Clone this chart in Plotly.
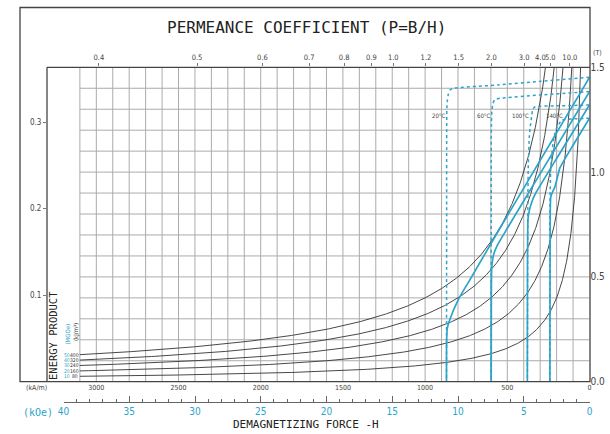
import numpy as np
import plotly.graph_objects as go

# ---------------- data ----------------
energy_kj = [80, 160, 240, 320, 400]            # kJ/m^3 iso-energy curves
energy_mgoe = ["10", "20", "30", "40", "50"]     # same curves in MGOe
permeance_values = [0.4, 0.5, 0.6, 0.7, 0.8, 0.9, 1.0, 1.2, 1.5, 2.0, 3.0, 4.0, 5.0, 10.0]
permeance_labels = ["0.4", "0.5", "0.6", "0.7", "0.8", "0.9", "1.0", "1.2", "1.5", "2.0",
                    "3.0", "4.0", "5.0", "10.0"]
ka_ticks = [3000, 2500, 2000, 1500, 1000, 500, 0]
koe_ticks = [40, 35, 30, 25, 20, 15, 10, 5, 0]
b_ticks = [0.0, 0.5, 1.0, 1.5]
b_ticklabels = ["0.0", "0.5", "1.0", "1.5"]
left_ticks = [0.1, 0.2, 0.3]
temps = ["20°C", "60°C", "100°C", "140°C"]

# intrinsic curves J (dotted), H in kA/m, J in T
j20_h = [0, 300, 550, 830, 848, 858, 864, 868, 869, 870]
j20_b = [1.452, 1.433, 1.416, 1.400, 1.392, 1.375, 1.345, 1.30, 0.70, 0.0]
j60_h = [0, 300, 545, 578, 588, 594, 597, 598, 599]
j60_b = [1.384, 1.368, 1.352, 1.345, 1.325, 1.29, 1.22, 0.70, 0.0]
j100_h = [0, 200, 331, 345, 352, 360, 366, 373, 376, 378]
j100_b = [1.320, 1.316, 1.312, 1.300, 1.265, 1.22, 1.17, 1.01, 0.70, 0.0]
j140_h = [0, 100, 169, 200, 220, 230, 236, 240, 241]
j140_b = [1.257, 1.254, 1.248, 1.21, 1.153, 1.073, 1.01, 0.867, 0.0]

# normal curves B (solid)
b20_h = [0, 300, 550, 727, 798, 849, 865, 869, 870]
b20_b = [1.452, 1.056, 0.725, 0.487, 0.392, 0.298, 0.255, 0.20, 0.0]
b60_h = [0, 300, 500, 560, 580, 590, 595, 597, 598]
b60_b = [1.384, 0.993, 0.732, 0.652, 0.615, 0.58, 0.54, 0.45, 0.0]
b100_h = [0, 200, 332, 350, 365, 374, 377, 378]
b100_b = [1.320, 1.065, 0.893, 0.86, 0.82, 0.78, 0.60, 0.0]
b140_h = [0, 100, 180, 210, 225, 236, 239, 240, 241]
b140_b = [1.257, 1.128, 1.020, 0.93, 0.905, 0.88, 0.80, 0.50, 0.0]

# ---------------- geometry helpers ----------------
W, HP = 610, 434
def fx(x):
    return x / W
def fy(y):
    return 1 - y / HP

MU0 = 4e-4 * np.pi          # T per (kA/m)
H_MAX = 3300                 # left end of plotting frame
H_GRID = 3100                # left end of grid
B_TOP = 1.5

CYAN = "#2aa4c9"
DARK = "#333333"
GRID = "#ababab"
NARROW = "Liberation Sans Narrow, DejaVu Sans Condensed, Arial Narrow, sans-serif"
MONO = "DejaVu Sans Mono, Liberation Mono, monospace"

fig = go.Figure()

# iso-energy hyperbolas
for e in energy_kj:
    hh = np.geomspace(e / 1.6, H_GRID, 400)
    fig.add_trace(go.Scatter(x=hh, y=e / hh, mode="lines",
                             line=dict(color=DARK, width=0.9),
                             hoverinfo="skip", showlegend=False))

# demagnetization curves
for hs, bs in [(j20_h, j20_b), (j60_h, j60_b), (j100_h, j100_b), (j140_h, j140_b)]:
    fig.add_trace(go.Scatter(x=hs, y=bs, mode="lines",
                             line=dict(color=CYAN, width=1.5, dash="dot", shape="spline", smoothing=0.4),
                             hoverinfo="skip", showlegend=False))
for hs, bs in [(b20_h, b20_b), (b60_h, b60_b), (b100_h, b100_b), (b140_h, b140_b)]:
    fig.add_trace(go.Scatter(x=hs, y=bs, mode="lines",
                             line=dict(color=CYAN, width=1.7, shape="spline", smoothing=0.4),
                             hoverinfo="skip", showlegend=False))

# invisible traces to activate the extra axes
fig.add_trace(go.Scatter(x=[0], y=[0], xaxis="x2", yaxis="y", mode="markers",
                         marker=dict(opacity=0), hoverinfo="skip", showlegend=False))
fig.add_trace(go.Scatter(x=[0], y=[0], xaxis="x", yaxis="y2", mode="markers",
                         marker=dict(opacity=0), hoverinfo="skip", showlegend=False))
fig.add_trace(go.Scatter(x=[0], y=[0], xaxis="x3", yaxis="y", mode="markers",
                         marker=dict(opacity=0), hoverinfo="skip", showlegend=False))

x_dom = [fx(47), fx(589.5)]
y_dom = [fy(381.7), fy(67.3)]

shapes = []
for h in range(100, H_GRID + 1, 100):
    shapes.append(dict(type="line", xref="x", yref="y", x0=h, x1=h, y0=0, y1=B_TOP,
                       layer="below", line=dict(color=GRID, width=1)))
for k in range(1, 15):
    b = k / 10
    shapes.append(dict(type="line", xref="x", yref="y", x0=H_GRID, x1=0, y0=b, y1=b,
                       layer="below", line=dict(color=GRID, width=1)))
# frames
shapes.append(dict(type="rect", xref="paper", yref="paper", x0=fx(20), x1=fx(590),
                   y0=fy(381.7), y1=fy(7.5), line=dict(color="#444", width=1.3)))
shapes.append(dict(type="line", xref="paper", yref="paper", x0=fx(47), x1=fx(590),
                   y0=fy(67.3), y1=fy(67.3), line=dict(color="#444", width=1.3)))
shapes.append(dict(type="line", xref="paper", yref="paper", x0=fx(47), x1=fx(47),
                   y0=fy(67.3), y1=fy(381.7), line=dict(color="#444", width=1.3)))

def A(text, x, y, size, color="#333", family=None, angle=0, yref="paper"):
    return dict(text=text, x=x, y=y, xref="paper", yref=yref, xanchor="center",
                yanchor="middle", textangle=angle, showarrow=False,
                font=dict(family=family or NARROW, size=size, color=color))

ann = []
ann.append(A("PERMEANCE COEFFICIENT (P=B/H)", fx(306), fy(28), 16, "#222", MONO))
ann.append(A("DEMAGNETIZING FORCE -H", fx(306), fy(424), 11, "#222", MONO))
ann.append(A("(kA/m)", fx(36), fy(388), 7, "#444"))
ann.append(A("(kOe)", fx(38), fy(412), 10, CYAN, MONO))
ann.append(A("(T)", fx(597), fy(53), 7, "#444"))
ann.append(A("ENERGY PRODUCT", fx(53), fy(336), 10.5, "#222", MONO, -90))
ann.append(A("(MGOe)", fx(66.5), fy(334), 6, CYAN, None, -90))
ann.append(A("(kJ/m³)", fx(76), fy(332), 6, "#333", None, -90))
for e, m in zip(energy_kj, energy_mgoe):
    ann.append(A(str(e), fx(74.5), e / H_GRID, 5, "#333", None, 0, "y"))
    ann.append(A(m, fx(67), e / H_GRID, 5, CYAN, None, 0, "y"))
for t, xp in zip(temps, [438.5, 484.4, 520.6, 554.5]):
    ann.append(A(t, fx(xp), fy(115.7), 6, "#444"))

top_tickvals = [B_TOP / (MU0 * p) for p in permeance_values]

fig.update_layout(
    width=W, height=HP,
    margin=dict(l=0, r=0, t=0, b=0, autoexpand=False),
    paper_bgcolor="white", plot_bgcolor="rgba(0,0,0,0)",
    showlegend=False,
    shapes=shapes, annotations=ann,
    xaxis=dict(domain=x_dom, range=[H_MAX, 0], anchor="y", showgrid=False, zeroline=False,
               showline=False, ticks="", tickvals=ka_ticks, ticktext=[str(t) for t in ka_ticks],
               tickangle=0, tickfont=dict(family=NARROW, size=7, color="#444")),
    xaxis2=dict(overlaying="x", side="top", range=[H_MAX, 0], anchor="y", showgrid=False,
                zeroline=False, showline=False, ticks="outside", ticklen=3, tickcolor="#777",
                tickvals=top_tickvals, ticktext=permeance_labels, tickangle=0,
                tickfont=dict(family=NARROW, size=7.5, color="#444")),
    xaxis3=dict(domain=[fx(63.5), fx(589.5)], range=[40, 0], anchor="free", position=fy(402),
                side="bottom", showgrid=False, zeroline=False, showline=True, linecolor="#666",
                linewidth=1, ticks="inside", ticklen=6, tickcolor="#666", tickvals=koe_ticks,
                ticktext=[str(k) for k in koe_ticks], tickangle=0,
                minor=dict(ticks="inside", ticklen=3, dtick=1, tickcolor="#666", showgrid=False),
                tickfont=dict(family=NARROW, size=10, color=CYAN)),
    yaxis=dict(domain=y_dom, range=[0, B_TOP], anchor="x", side="right", showgrid=False,
               zeroline=False, showline=False, ticks="", tickvals=b_ticks, ticktext=b_ticklabels,
               tickfont=dict(family=NARROW, size=10, color="#444")),
    yaxis2=dict(overlaying="y", side="left", range=[0, 0.3633], anchor="x", showgrid=False,
                zeroline=False, showline=False, ticks="outside", ticklen=3, tickcolor="#777",
                tickvals=left_ticks, ticktext=["0.1", "0.2", "0.3"],
                tickfont=dict(family=NARROW, size=8, color="#444")),
)

fig.write_html("out.html", config={"responsive": False, "displayModeBar": False},
               post_script="document.body.style.margin='0px';document.body.style.overflow='hidden';")
